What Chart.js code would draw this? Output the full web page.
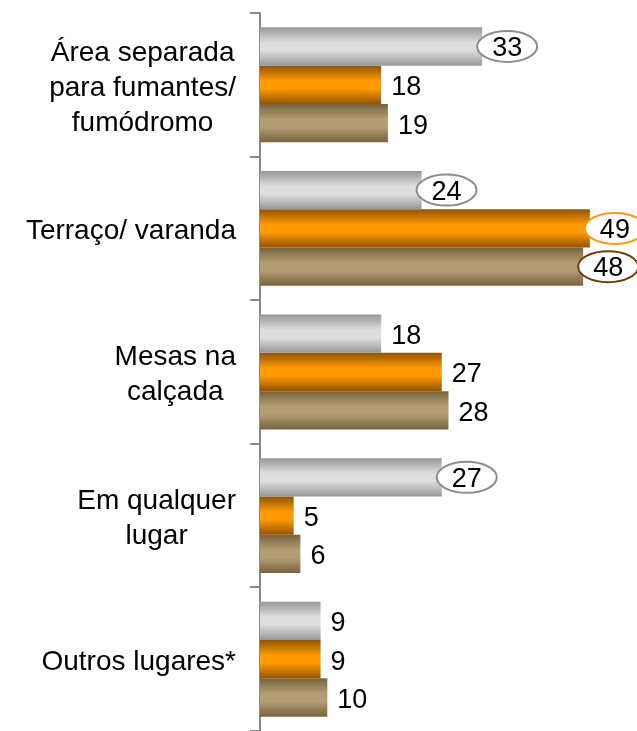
<!DOCTYPE html>
<html>
<head>
<meta charset="utf-8">
<script src="https://cdn.jsdelivr.net/npm/chart.js@4/dist/chart.umd.min.js"></script>
<style>
  html, body { margin: 0; padding: 0; background: #fff; }
  #wrap { width: 637px; height: 731px; }
</style>
</head>
<body>
<div id="wrap"><canvas id="chart"></canvas></div>
<script>
// Data
const categories = [
  ["Área separada", "para fumantes/", "fumódromo"],
  ["Terraço/ varanda"],
  ["Mesas na", "calçada"],
  ["Em qualquer", "lugar"],
  ["Outros lugares*"]
];
const seriesNames = ["Série 1", "Série 2", "Série 3"];
const grayValues = [33, 24, 18, 27, 9];
const orangeValues = [18, 49, 27, 5, 9];
const tanValues = [19, 48, 28, 6, 10];
// which value labels are circled in the original
const grayCircled = [true, true, false, true, false];
const orangeCircled = [false, true, false, false, false];
const tanCircled = [false, true, false, false, false];

const FONT = "Arial, 'Liberation Sans', sans-serif";

// vertical gradient for each bar, dark edges and light middle
function barGradient(c, edge, mid) {
  const chart = c.chart;
  const y = chart.scales.y;
  if (c.type !== "data" || !y || !chart.chartArea) return mid;
  const band = (y.bottom - y.top) / categories.length;
  const center = y.getPixelForValue(c.dataIndex);
  const barH = band * 0.8 / 3;
  const top = center - band * 0.4 + c.datasetIndex * barH;
  const g = chart.ctx.createLinearGradient(0, top, 0, top + barH);
  g.addColorStop(0, edge);
  g.addColorStop(0.4, mid);
  g.addColorStop(0.6, mid);
  g.addColorStop(1, edge);
  return g;
}

// Category labels: each block centered on itself, blocks right aligned
const categoryLabels = {
  id: "categoryLabels",
  afterDraw(chart) {
    const ctx = chart.ctx;
    const y = chart.scales.y;
    const right = 236;
    const lineH = 35;
    ctx.save();
    ctx.font = "28px " + FONT;
    ctx.fillStyle = "#000";
    ctx.textAlign = "center";
    ctx.textBaseline = "middle";
    categories.forEach((lines, i) => {
      const w = Math.max(...lines.map(l => ctx.measureText(l).width));
      const cx = right - w / 2;
      const cy = y.getPixelForValue(i) + 3;
      lines.forEach((l, k) => {
        ctx.fillText(l, cx, cy + (k - (lines.length - 1) / 2) * lineH);
      });
    });
    ctx.restore();
  }
};

// Value labels, some inside an ellipse
const valueLabels = {
  id: "valueLabels",
  afterDatasetsDraw(chart) {
    const ctx = chart.ctx;
    const circled = [grayCircled, orangeCircled, tanCircled];
    const ringColors = ["#8c8c8c", "#ff9900", "#6b3d0a"];
    ctx.save();
    ctx.font = "27px " + FONT;
    ctx.fillStyle = "#000";
    ctx.textBaseline = "middle";
    chart.data.datasets.forEach((ds, di) => {
      chart.getDatasetMeta(di).data.forEach((bar, i) => {
        const v = ds.data[i];
        if (circled[di][i]) {
          const cx = bar.x + 25;
          ctx.beginPath();
          ctx.ellipse(cx, bar.y, 30, 15.5, 0, 0, Math.PI * 2);
          ctx.fillStyle = "#fff";
          ctx.fill();
          ctx.lineWidth = 2;
          ctx.strokeStyle = ringColors[di];
          ctx.stroke();
          ctx.fillStyle = "#000";
          ctx.textAlign = "center";
          ctx.fillText(v, cx, bar.y + 2);
        } else {
          ctx.textAlign = "left";
          ctx.fillText(v, bar.x + 10, bar.y + 3);
        }
      });
    });
    ctx.restore();
  }
};

new Chart(document.getElementById("chart"), {
  type: "bar",
  data: {
    labels: categories,
    datasets: [
      { label: seriesNames[0], data: grayValues, backgroundColor: c => barGradient(c, "#979797", "#dedede") },
      { label: seriesNames[1], data: orangeValues, backgroundColor: c => barGradient(c, "#935400", "#ff9900") },
      { label: seriesNames[2], data: tanValues, backgroundColor: c => barGradient(c, "#76643f", "#b49d72") }
    ]
  },
  options: {
    indexAxis: "y",
    responsive: true,
    maintainAspectRatio: false,
    animation: false,
    layout: { padding: { left: 250, top: 13, right: 0, bottom: 0 } },
    datasets: { bar: { categoryPercentage: 0.8, barPercentage: 1.0 } },
    plugins: { legend: { display: false }, tooltip: { enabled: false } },
    scales: {
      x: { display: false, min: 0, max: 56 },
      y: {
        ticks: { display: false },
        grid: { drawOnChartArea: false, drawTicks: true, tickLength: 10, color: "#8a8a8a", lineWidth: 2 },
        border: { display: true, color: "#8a8a8a", width: 2 }
      }
    }
  },
  plugins: [categoryLabels, valueLabels]
});
</script>
</body>
</html>
